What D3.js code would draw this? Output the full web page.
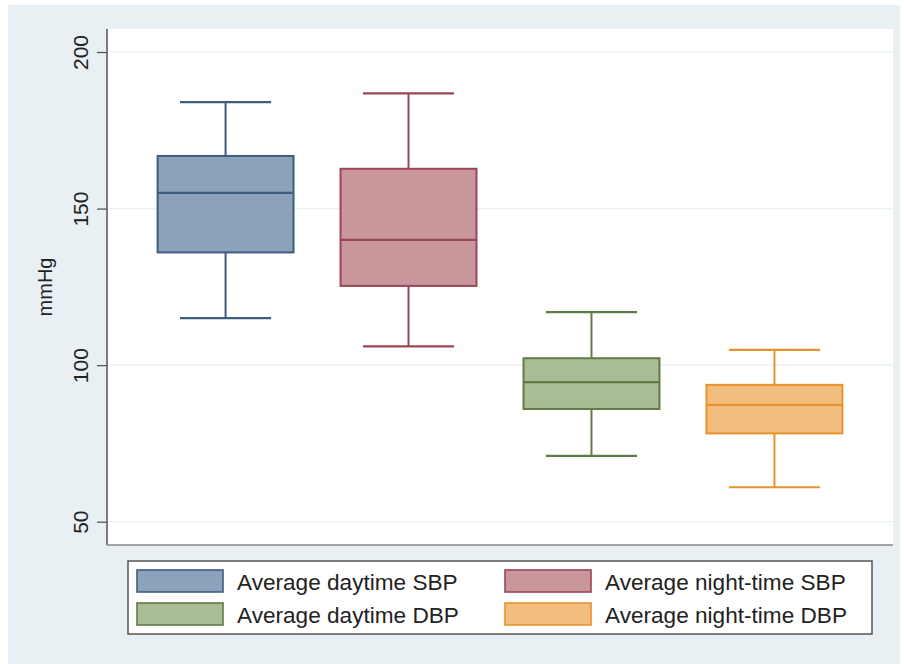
<!DOCTYPE html>
<html>
<head>
<meta charset="utf-8">
<script src="https://cdn.jsdelivr.net/npm/d3@7"></script>
<style>
  html, body { margin: 0; padding: 0; background: #ffffff; }
  svg { display: block; font-family: "Liberation Sans", Arial, sans-serif; }
</style>
</head>
<body>
<svg id="chart" width="904" height="664"></svg>
<script>
// ---- data ----
const categories = ["Average daytime SBP", "Average night-time SBP", "Average daytime DBP", "Average night-time DBP"];
const whiskerLow  = [115, 106, 71, 61];
const q1          = [136, 125.3, 86, 78.2];
const median      = [155, 140, 94.6, 87.3];
const q3          = [166.8, 162.7, 102.2, 93.7];
const whiskerHigh = [184, 186.8, 116.9, 104.9];
const yTicks = [50, 100, 150, 200];
const yLabel = "mmHg";

// ---- styles ----
const fills   = ["#8ca2ba", "#c9969b", "#a9bc96", "#f2be80"];
const strokes = ["#3f5d80", "#9a4655", "#5f7c42", "#e8922e"];

const svg = d3.select("#chart");

// background
svg.append("rect").attr("x", 8).attr("y", 5).attr("width", 892).attr("height", 659).attr("fill", "#e9f0f3");

const plot = { left: 107, right: 893, top: 29, bottom: 545 };
svg.append("rect").attr("x", plot.left).attr("y", plot.top)
  .attr("width", plot.right - plot.left).attr("height", plot.bottom - plot.top)
  .attr("fill", "#ffffff");

const y = d3.scaleLinear().domain([200, 50]).range([52, 521.7]);
const x = d3.scalePoint().domain(categories).range([plot.left, plot.right]).padding(0.648);
const step = x.step();
const boxW = step * 0.743;
const capW = boxW * 0.67;

// gridlines
svg.append("g").selectAll("line").data(yTicks).join("line")
  .attr("x1", plot.left).attr("x2", plot.right)
  .attr("y1", d => y(d)).attr("y2", d => y(d))
  .attr("stroke", "#eaeff2").attr("stroke-width", 1.2);

// y axis
const yAxis = d3.axisLeft(y).tickValues(yTicks).tickSize(10).tickSizeOuter(0).tickPadding(8);
const gy = svg.append("g").attr("transform", `translate(${plot.left},0)`).call(yAxis);
gy.select(".domain").remove();
gy.selectAll(".tick line").attr("stroke", "#555").attr("stroke-width", 1.3);
gy.selectAll(".tick text")
  .attr("font-size", 21).attr("fill", "#222")
  .attr("x", null)
  .attr("text-anchor", "middle")
  .attr("transform", "translate(-27,0) rotate(-90)")
  .attr("dy", "0.36em")
  .attr("y", 0);
svg.append("line").attr("x1", plot.left).attr("x2", plot.left)
  .attr("y1", plot.top).attr("y2", plot.bottom)
  .attr("stroke", "#555").attr("stroke-width", 1.5);
svg.append("line").attr("x1", plot.left).attr("x2", plot.right)
  .attr("y1", plot.bottom).attr("y2", plot.bottom)
  .attr("stroke", "#8a8a8a").attr("stroke-width", 1.5);

// y label
svg.append("text").attr("transform", `translate(52,${(plot.top + plot.bottom) / 2}) rotate(-90)`)
  .attr("text-anchor", "middle").attr("font-size", 20).attr("fill", "#222").text(yLabel);

// boxes
const g = svg.append("g");
categories.forEach((c, i) => {
  const cx = x(c);
  const col = strokes[i];
  g.append("line").attr("x1", cx).attr("x2", cx).attr("y1", y(whiskerHigh[i])).attr("y2", y(q3[i]))
    .attr("stroke", col).attr("stroke-width", 2);
  g.append("line").attr("x1", cx).attr("x2", cx).attr("y1", y(q1[i])).attr("y2", y(whiskerLow[i]))
    .attr("stroke", col).attr("stroke-width", 2);
  [whiskerHigh[i], whiskerLow[i]].forEach(v => {
    g.append("line").attr("x1", cx - capW / 2).attr("x2", cx + capW / 2).attr("y1", y(v)).attr("y2", y(v))
      .attr("stroke", col).attr("stroke-width", 2.2);
  });
  g.append("rect").attr("x", cx - boxW / 2).attr("width", boxW)
    .attr("y", y(q3[i])).attr("height", y(q1[i]) - y(q3[i]))
    .attr("fill", fills[i]).attr("stroke", col).attr("stroke-width", 2);
  g.append("line").attr("x1", cx - boxW / 2).attr("x2", cx + boxW / 2).attr("y1", y(median[i])).attr("y2", y(median[i]))
    .attr("stroke", col).attr("stroke-width", 2.2);
});

// legend
const leg = svg.append("g");
leg.append("rect").attr("x", 128).attr("y", 561).attr("width", 744).attr("height", 73)
  .attr("fill", "#ffffff").attr("stroke", "#555").attr("stroke-width", 1.5);
const legPos = [
  { sx: 137, tx: 237, sy: 570 },
  { sx: 505, tx: 605, sy: 570 },
  { sx: 137, tx: 237, sy: 603 },
  { sx: 505, tx: 605, sy: 603 }
];
categories.forEach((c, i) => {
  const p = legPos[i];
  leg.append("rect").attr("x", p.sx).attr("y", p.sy).attr("width", 86).attr("height", 22)
    .attr("fill", fills[i]).attr("stroke", strokes[i]).attr("stroke-width", 1.6);
  leg.append("text").attr("x", p.tx).attr("y", p.sy + 20).attr("font-size", 22.6).attr("fill", "#222").text(c);
});
</script>
</body>
</html>
